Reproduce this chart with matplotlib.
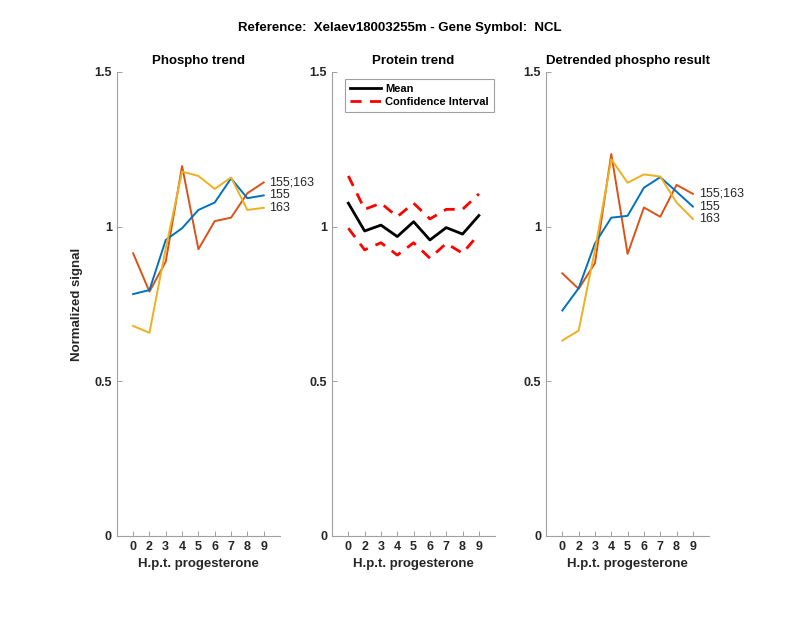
import matplotlib
matplotlib.use("Agg")
import matplotlib.pyplot as plt

plt.rcParams['font.family'] = ['Liberation Sans', 'DejaVu Sans']

# time points (hours post progesterone)
hpt_labels = ['0', '2', '3', '4', '5', '6', '7', '8', '9']
xpos = list(range(1, len(hpt_labels) + 1))

# phospho trend
phos_155_163 = [0.914, 0.790, 0.887, 1.196, 0.927, 1.018, 1.029, 1.108, 1.143]
phos_155 = [0.782, 0.795, 0.957, 0.995, 1.054, 1.078, 1.156, 1.092, 1.101]
phos_163 = [0.679, 0.657, 0.930, 1.178, 1.164, 1.122, 1.159, 1.054, 1.061]

# protein trend
prot_mean = [1.076, 0.986, 1.005, 0.968, 1.016, 0.957, 0.997, 0.976, 1.036]
prot_upper = [1.164, 1.056, 1.076, 1.032, 1.076, 1.025, 1.056, 1.056, 1.106]
prot_lower = [0.995, 0.925, 0.948, 0.908, 0.948, 0.898, 0.946, 0.914, 0.976]

# detrended phospho
detr_155_163 = [0.849, 0.799, 0.882, 1.235, 0.912, 1.062, 1.032, 1.135, 1.106]
detr_155 = [0.729, 0.801, 0.946, 1.029, 1.035, 1.126, 1.160, 1.113, 1.065]
detr_163 = [0.632, 0.664, 0.925, 1.218, 1.142, 1.169, 1.162, 1.078, 1.025]

site_names = ['155;163', '155', '163']
blue = '#0072BD'
orange = '#D95319'
yellow = '#EDB120'
site_colors = [orange, blue, yellow]

fig = plt.figure(figsize=(8, 6.18), dpi=100)
bot, h, w = 0.1327, 0.7508, 0.204
ax1 = fig.add_axes([0.146, bot, w, h])
ax2 = fig.add_axes([0.415, bot, w, h])
ax3 = fig.add_axes([0.6825, bot, w, h])

def style(ax, title):
    ax.set_xlim(0, 10)
    ax.set_ylim(0, 1.5)
    ax.set_xticks(xpos)
    ax.set_xticklabels(hpt_labels)
    ax.set_yticks([0, 0.5, 1, 1.5])
    ax.set_yticklabels(['0', '0.5', '1', '1.5'])
    for s in ['top', 'right']:
        ax.spines[s].set_visible(False)
    for s in ['left', 'bottom']:
        ax.spines[s].set_color('#a0a0a0')
        ax.spines[s].set_linewidth(0.8)
    ax.tick_params(direction='in', length=3.5, width=0.7, color='#a0a0a0',
                   labelcolor='#262626', labelsize=9)
    for lab in ax.get_xticklabels() + ax.get_yticklabels():
        lab.set_fontweight('bold')
    ax.set_title(title, fontsize=9.5, fontweight='bold', pad=6)
    ax.set_xlabel('H.p.t. progesterone', fontsize=9.5, fontweight='bold',
                  color='#262626', labelpad=4)

def site_plot(ax, series):
    for vals, col in zip(series, site_colors):
        ax.plot(xpos, vals, color=col, lw=1.4)
    for vals, name in zip(series, site_names):
        ax.text(xpos[-1] + 0.35, vals[-1], name, fontsize=9, va='center',
                ha='left', color='#262626', clip_on=False)

style(ax1, 'Phospho trend')
site_plot(ax1, [phos_155_163, phos_155, phos_163])
ax1.set_ylabel('Normalized signal', fontsize=9.5, fontweight='bold',
               color='#262626', labelpad=8)

style(ax2, 'Protein trend')
ax2.plot(xpos, prot_mean, color='black', lw=2, label='Mean')
ax2.plot(xpos, prot_upper, color='red', lw=2, ls=(0, (4, 3)),
         label='Confidence Interval')
ax2.plot(xpos, prot_lower, color='red', lw=2, ls=(0, (4, 3)))
leg = ax2.legend(loc='upper left', bbox_to_anchor=(0.08, 0.985),
                 prop={'weight': 'bold', 'size': 8}, fancybox=False,
                 framealpha=1, edgecolor='#a0a0a0', borderpad=0.45,
                 labelspacing=0.3, handlelength=2.8, handletextpad=0.35,
                 borderaxespad=0)
leg.get_frame().set_linewidth(0.8)

style(ax3, 'Detrended phospho result')
site_plot(ax3, [detr_155_163, detr_155, detr_163])

fig.text(0.5, 0.955, 'Reference:  Xelaev18003255m - Gene Symbol:  NCL',
         ha='center', va='center', fontsize=9.5, fontweight='bold')

fig.savefig('out.png', dpi=100)
